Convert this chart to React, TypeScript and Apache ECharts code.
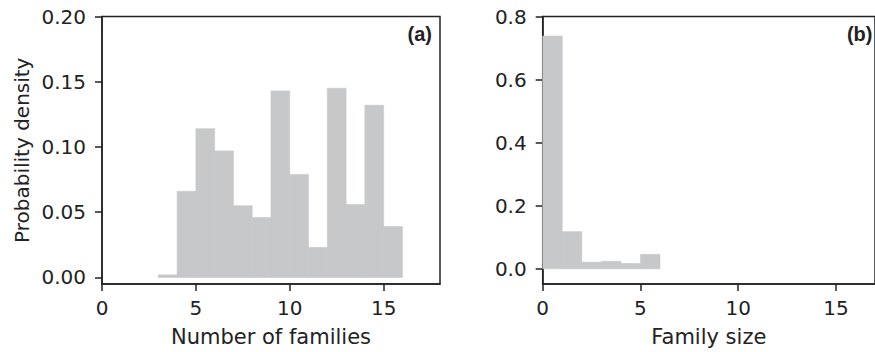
import React, { useEffect, useRef } from "react";
import * as echarts from "echarts";

// Panel (a): number of families histogram
const familiesBinStart = [3, 4, 5, 6, 7, 8, 9, 10, 11, 12, 13, 14, 15];
const familiesDensity = [0.002, 0.066, 0.114, 0.097, 0.055, 0.046, 0.143, 0.079, 0.023, 0.145, 0.056, 0.132, 0.039];
// Panel (b): family size histogram
const sizeBinStart = [0, 1, 2, 3, 4, 5];
const sizeDensity = [0.738, 0.118, 0.021, 0.024, 0.017, 0.046];

const xTicks = [0, 5, 10, 15];
const yTicksA = [0, 0.05, 0.1, 0.15, 0.2];
const yTicksB = [0, 0.2, 0.4, 0.6, 0.8];

const BAR = "#c7c8ca";
const INK = "#222222";
const FONT = "DejaVu Sans";

function histData(starts: number[], vals: number[]) {
  return starts.map((s, i) => [s, s + 1, vals[i]]);
}

const renderBar = (_params: any, api: any) => {
  const p0 = api.coord([api.value(0), api.value(2)]);
  const p1 = api.coord([api.value(1), 0]);
  return {
    type: "rect",
    shape: { x: p0[0], y: p0[1], width: p1[0] - p0[0], height: p1[1] - p0[1] },
    style: { fill: BAR, stroke: BAR, lineWidth: 0.6 },
  };
};

function xAxis(gridIndex: number, max: number, name: string) {
  return {
    type: "value",
    gridIndex,
    min: 0,
    max,
    name,
    nameLocation: "middle",
    nameGap: 42,
    nameTextStyle: { fontFamily: FONT, fontSize: 21, color: INK },
    splitLine: { show: false },
    axisLine: { show: true, onZero: false, lineStyle: { color: INK, width: 1.5 } },
    axisTick: { show: true, length: 7, customValues: xTicks, lineStyle: { color: INK, width: 1.5 } },
    axisLabel: {
      customValues: xTicks,
      margin: 14,
      fontFamily: FONT,
      fontSize: 20,
      color: INK,
    },
  };
}

function yAxis(gridIndex: number, min: number, max: number, ticks: number[], digits: number, name: string) {
  return {
    type: "value",
    gridIndex,
    min,
    max,
    name,
    nameLocation: "middle",
    nameGap: 70,
    nameTextStyle: { fontFamily: FONT, fontSize: 20, color: INK },
    splitLine: { show: false },
    axisLine: { show: true, onZero: false, lineStyle: { color: INK, width: 1.5 } },
    axisTick: { show: true, length: 7, customValues: ticks, lineStyle: { color: INK, width: 1.5 } },
    axisLabel: {
      customValues: ticks,
      margin: 16,
      fontFamily: FONT,
      fontSize: 20,
      color: INK,
      formatter: (v: number) => v.toFixed(digits),
    },
  };
}

export default function App() {
  const ref = useRef<HTMLDivElement>(null);
  useEffect(() => {
    if (!ref.current) return;
    const chart = echarts.init(ref.current, null, { renderer: "svg" });
    chart.setOption({
      animation: false,
      backgroundColor: "#ffffff",
      grid: [
        { left: 102, top: 16.5, width: 338, height: 269.5, show: true, borderColor: INK, borderWidth: 1.5, backgroundColor: "transparent" },
        { left: 542.7, top: 16.5, width: 339, height: 269.5, show: true, borderColor: INK, borderWidth: 1.5, backgroundColor: "transparent" },
      ],
      xAxis: [xAxis(0, 18, "Number of families"), xAxis(1, 17, "Family size")],
      yAxis: [
        yAxis(0, -0.005, 0.2, yTicksA, 2, "Probability density"),
        yAxis(1, -0.048, 0.8, yTicksB, 1, ""),
      ],
      series: [
        { type: "custom", xAxisIndex: 0, yAxisIndex: 0, data: histData(familiesBinStart, familiesDensity), renderItem: renderBar },
        { type: "custom", xAxisIndex: 1, yAxisIndex: 1, data: histData(sizeBinStart, sizeDensity), renderItem: renderBar },
      ],
      graphic: [
        { type: "text", right: 875 - 432, top: 24, style: { text: "(a)", fontFamily: "Liberation Sans", fontWeight: "bold", fontSize: 20, fill: INK } },
        { type: "text", right: 875 - 872.5, top: 24, style: { text: "(b)", fontFamily: "Liberation Sans", fontWeight: "bold", fontSize: 20, fill: INK } },
      ],
    });
    return () => chart.dispose();
  }, []);
  return <div ref={ref} style={{ position: "fixed", left: 0, top: 0, width: 875, height: 352 }} />;
}
